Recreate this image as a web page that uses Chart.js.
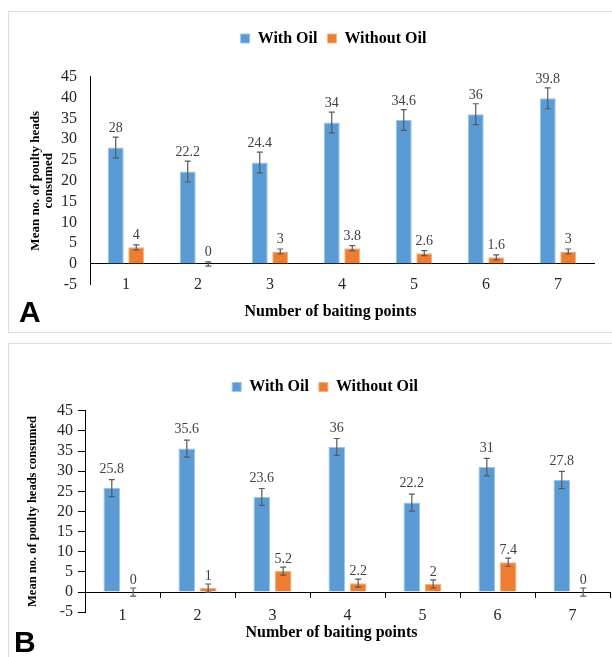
<!DOCTYPE html>
<html>
<head>
<meta charset="utf-8">
<title>Poultry heads consumed</title>
<script src="https://cdn.jsdelivr.net/npm/chart.js@4"></script>
<style>
  html, body { margin: 0; padding: 0; background: #fff; }
  body { width: 612px; height: 657px; position: relative; overflow: hidden; }
  .frame { position: absolute; left: 8px; width: 640px; border: 1px solid #dedede; }
  #frameA { top: 11px; height: 320px; }
  #frameB { top: 343px; height: 340px; }
  canvas { position: absolute; left: 8px; }
  #chartA { top: 11px; }
  #chartB { top: 343px; }
  .panel { position: absolute; font: bold 30px 'Liberation Sans', Arial, sans-serif; line-height: 30px; color: #000; }
</style>
</head>
<body>
<div class="frame" id="frameA"></div>
<div class="frame" id="frameB"></div>
<canvas id="chartA" width="604" height="320"></canvas>
<canvas id="chartB" width="604" height="314"></canvas>
<div class="panel" style="left:19px; top:297px;">A</div>
<div class="panel" style="left:14px; top:627px;">B</div>

<script>
// Baiting points on the x axis
const categories = ['1', '2', '3', '4', '5', '6', '7'];

// Panel A
const withOilA = [28, 22.2, 24.4, 34, 34.6, 36, 39.8];
const withoutOilA = [4, 0, 3, 3.8, 2.6, 1.6, 3];
const withOilErrA = [2.5, 2.5, 2.5, 2.5, 2.5, 2.5, 2.5];
const withoutOilErrA = [0.6, 0.5, 0.6, 0.6, 0.6, 0.6, 0.6];

// Panel B
const withOilB = [25.8, 35.6, 23.6, 36, 22.2, 31, 27.8];
const withoutOilB = [0, 1, 5.2, 2.2, 2, 7.4, 0];
const withOilErrB = [2.1, 2.1, 2.1, 2.1, 2.1, 2.15, 2.15];
const withoutOilErrB = [1, 1, 1, 1, 1, 1, 1];

// y axis range / tick step
const yMin = -5;
const yMax = 45;
const yStep = 5;

Chart.defaults.font.family = "'Liberation Serif', 'Times New Roman', serif";

// error bars + value labels above the bars
const barExtras = {
    id: 'barExtras',
    afterDatasetsDraw(chart) {
        const ctx = chart.ctx;
        const yScale = chart.scales.y;
        ctx.save();

        chart.data.datasets.forEach((ds, i) => {
            const meta = chart.getDatasetMeta(i);
            meta.data.forEach((bar, j) => {
                const v = ds.data[j];
                const e = ds.errors[j];
                const top = yScale.getPixelForValue(v + e);
                const bottom = yScale.getPixelForValue(v - e);
                ctx.strokeStyle = '#595959';
                ctx.lineWidth = 1.2;
                ctx.beginPath();
                ctx.moveTo(bar.x, top);
                ctx.lineTo(bar.x, bottom);
                ctx.moveTo(bar.x - 3, top);
                ctx.lineTo(bar.x + 3, top);
                ctx.moveTo(bar.x - 3, bottom);
                ctx.lineTo(bar.x + 3, bottom);
                ctx.stroke();
            });
        });

        ctx.fillStyle = '#404040';
        ctx.font = "14px 'Liberation Serif', 'Times New Roman', serif";
        ctx.textAlign = 'center';
        ctx.textBaseline = 'middle';
        chart.data.datasets.forEach((ds, i) => {
            const meta = chart.getDatasetMeta(i);
            meta.data.forEach((bar, j) => {
                ctx.fillText(String(ds.data[j]), bar.x, bar.y - ds.labelOffset);
            });
        });
        ctx.restore();
    }
};

// extra room under the legend, and nudge legend / bottom title sideways
const panelLayout = {
    id: 'panelLayout',
    beforeInit(chart, args, opts) {
        const legend = chart.legend;
        const fit = legend.fit;
        legend.fit = function () {
            fit.call(this);
            this.height += opts.legendGap;
        };
    },
    afterLayout(chart, args, opts) {
        chart.legend.left += opts.legendShift;
        chart.legend.right += opts.legendShift;
        chart.titleBlock.left += opts.titleShift;
        chart.titleBlock.right += opts.titleShift;
    }
};

function buildChart(id, withOil, withoutOil, withOilErr, withoutOilErr, lay) {
    return new Chart(document.getElementById(id), {
        type: 'bar',
        data: {
            labels: categories,
            datasets: [{
                label: 'With Oil',
                data: withOil,
                errors: withOilErr,
                labelOffset: 19,
                backgroundColor: '#5b9bd5',
                borderColor: '#9dc3e6',
                borderWidth: 1
            }, {
                label: 'Without Oil',
                data: withoutOil,
                errors: withoutOilErr,
                labelOffset: 12,
                backgroundColor: '#ed7d31',
                borderColor: '#f4b183',
                borderWidth: 1
            }]
        },
        options: {
            responsive: false,
            animation: false,
            datasets: {
                bar: {
                    categoryPercentage: 0.57,
                    barPercentage: 0.78
                }
            },
            layout: {
                padding: { left: 6, right: lay.right, top: lay.top, bottom: lay.bottom }
            },
            scales: {
                x: {
                    position: { y: 0 },
                    afterFit: (scale) => { scale.height = 0; },
                    grid: {
                        drawOnChartArea: false,
                        drawTicks: lay.xTicks,
                        tickLength: 5,
                        color: '#000'
                    },
                    border: { color: '#000', width: 1 },
                    ticks: {
                        padding: lay.xPad,
                        color: '#262626',
                        font: { size: 16 }
                    }
                },
                y: {
                    min: yMin,
                    max: yMax,
                    afterFit: (scale) => { scale.width = lay.yWidth; },
                    grid: {
                        drawOnChartArea: false,
                        drawTicks: lay.yTicks,
                        tickLength: 7,
                        color: '#000'
                    },
                    border: { color: '#000', width: 1 },
                    ticks: {
                        stepSize: yStep,
                        autoSkip: false,
                        padding: lay.yPad,
                        color: '#262626',
                        font: { size: 16 }
                    },
                    title: {
                        display: true,
                        text: lay.yTitle,
                        color: '#000',
                        font: { size: lay.yTitleSize, weight: 'bold', lineHeight: lay.yTitleLine },
                        padding: { top: lay.yTitlePad, bottom: 0 }
                    }
                }
            },
            plugins: {
                legend: {
                    position: 'top',
                    labels: {
                        boxWidth: 9,
                        boxHeight: 9,
                        padding: 10,
                        color: '#000',
                        font: { size: 16, weight: 'bold' }
                    }
                },
                title: {
                    display: true,
                    position: 'bottom',
                    text: 'Number of baiting points',
                    color: '#000',
                    font: { size: 16, weight: 'bold' },
                    padding: { top: lay.titlePad, bottom: 4 }
                },
                tooltip: { enabled: false },
                panelLayout: {
                    legendGap: lay.legendGap,
                    legendShift: lay.legendShift,
                    titleShift: lay.titleShift
                }
            }
        },
        plugins: [barExtras, panelLayout]
    });
}

buildChart('chartA', withOilA, withoutOilA, withOilErrA, withoutOilErrA, {
    top: 9.5, bottom: 5.4, right: 18,
    legendGap: 20.2, legendShift: 29.5, titleShift: 26.5, titlePad: 17.6,
    yWidth: 76, yPad: 13, yTicks: false,
    xPad: 11, xTicks: false,
    yTitle: ['Mean no. of poulty heads', 'consumed'],
    yTitleSize: 13, yTitleLine: 1.0, yTitlePad: 15
});

buildChart('chartB', withOilB, withoutOilB, withOilErrB, withoutOilErrB, {
    top: 26, bottom: 10.4, right: 2,
    legendGap: 5.7, legendShift: 13, titleShift: 19.5, titlePad: 11.2,
    yWidth: 71, yPad: 5, yTicks: true,
    xPad: 9, xTicks: true,
    yTitle: 'Mean no. of poulty heads consumed',
    yTitleSize: 12.5, yTitleLine: 1.2, yTitlePad: 11.5
});
</script>
</body>
</html>
